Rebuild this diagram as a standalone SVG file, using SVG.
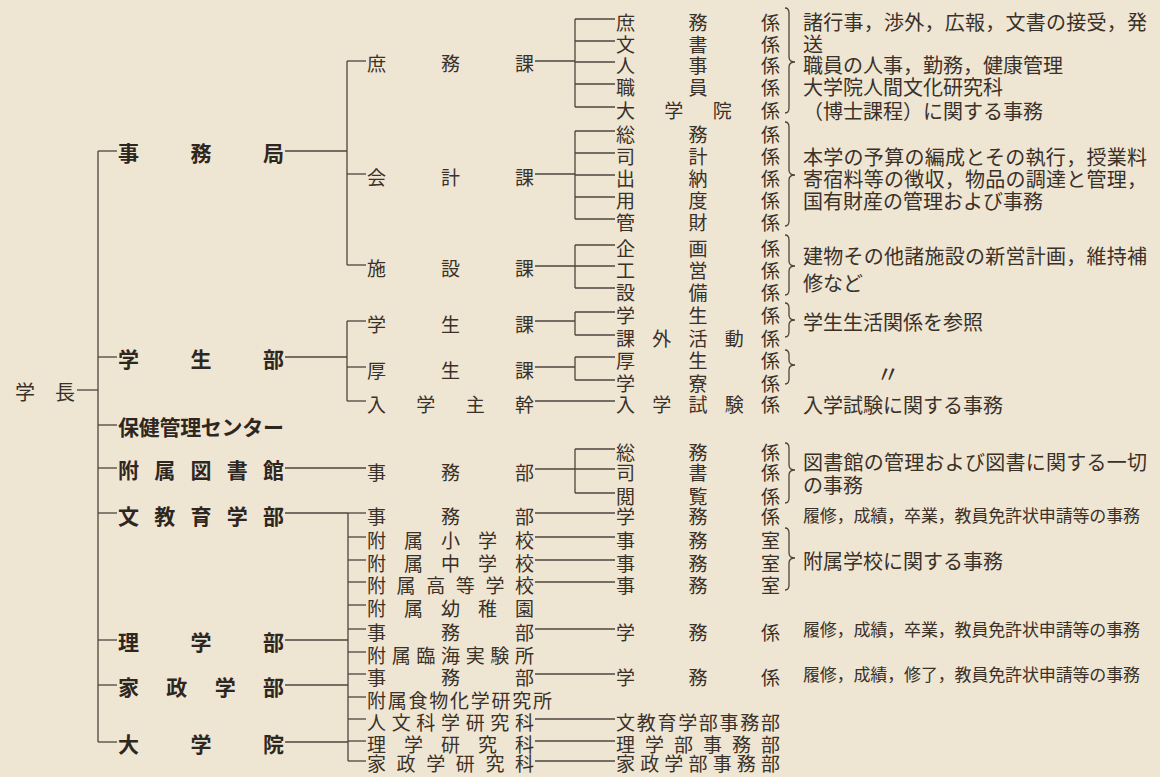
<svg xmlns="http://www.w3.org/2000/svg" width="1160" height="777" viewBox="0 0 1160 777">
<style>
text { font-family: "Noto Sans CJK JP", "Noto Sans CJK SC", sans-serif; fill: #3a3129; dominant-baseline: central; font-size: 20px; }
.l1 { font-size: 21px; font-weight: 700; fill: #2e271f; }
#l2-nodes text, #l3-nodes text { font-size: 19px; }
.s { font-size: 17px; }
.c line, .b path { stroke: #4d443b; stroke-width: 1.3; fill: none; }
</style>
<rect width="1160" height="777" fill="#efe5d3"/>
<g id="connectors" class="c">
<line x1="77" y1="390" x2="98" y2="390"/>
<line x1="98" y1="151" x2="98" y2="742"/>
<line x1="98" y1="151" x2="117" y2="151"/>
<line x1="98" y1="357" x2="117" y2="357"/>
<line x1="98" y1="425" x2="117" y2="425"/>
<line x1="98" y1="468" x2="117" y2="468"/>
<line x1="98" y1="513" x2="117" y2="513"/>
<line x1="98" y1="640" x2="117" y2="640"/>
<line x1="98" y1="685" x2="117" y2="685"/>
<line x1="98" y1="742" x2="117" y2="742"/>
<line x1="285" y1="151" x2="347" y2="151"/>
<line x1="347" y1="61" x2="347" y2="265"/>
<line x1="347" y1="61" x2="366" y2="61"/>
<line x1="347" y1="174" x2="366" y2="174"/>
<line x1="347" y1="265" x2="366" y2="265"/>
<line x1="535" y1="61" x2="575" y2="61"/>
<line x1="575" y1="19" x2="575" y2="107"/>
<line x1="575" y1="19" x2="615" y2="19"/>
<line x1="575" y1="41" x2="615" y2="41"/>
<line x1="575" y1="62" x2="615" y2="62"/>
<line x1="575" y1="84" x2="615" y2="84"/>
<line x1="575" y1="107" x2="615" y2="107"/>
<line x1="535" y1="174" x2="575" y2="174"/>
<line x1="575" y1="131" x2="575" y2="219"/>
<line x1="575" y1="131" x2="615" y2="131"/>
<line x1="575" y1="153" x2="615" y2="153"/>
<line x1="575" y1="175" x2="615" y2="175"/>
<line x1="575" y1="197" x2="615" y2="197"/>
<line x1="575" y1="219" x2="615" y2="219"/>
<line x1="535" y1="266" x2="615" y2="266"/>
<line x1="575" y1="245" x2="575" y2="288"/>
<line x1="575" y1="245" x2="615" y2="245"/>
<line x1="575" y1="288" x2="615" y2="288"/>
<line x1="285" y1="357" x2="347" y2="357"/>
<line x1="347" y1="321" x2="347" y2="401"/>
<line x1="347" y1="321" x2="366" y2="321"/>
<line x1="347" y1="367" x2="366" y2="367"/>
<line x1="347" y1="401" x2="366" y2="401"/>
<line x1="535" y1="321" x2="575" y2="321"/>
<line x1="575" y1="312" x2="575" y2="335"/>
<line x1="575" y1="312" x2="615" y2="312"/>
<line x1="575" y1="335" x2="615" y2="335"/>
<line x1="535" y1="367" x2="575" y2="367"/>
<line x1="575" y1="357" x2="575" y2="380"/>
<line x1="575" y1="357" x2="615" y2="357"/>
<line x1="575" y1="380" x2="615" y2="380"/>
<line x1="535" y1="401" x2="615" y2="401"/>
<line x1="285" y1="468" x2="366" y2="468"/>
<line x1="535" y1="469" x2="615" y2="469"/>
<line x1="575" y1="449" x2="575" y2="493"/>
<line x1="575" y1="449" x2="615" y2="449"/>
<line x1="575" y1="493" x2="615" y2="493"/>
<line x1="285" y1="513" x2="348" y2="513"/>
<line x1="285" y1="640" x2="348" y2="640"/>
<line x1="285" y1="685" x2="348" y2="685"/>
<line x1="285" y1="742" x2="348" y2="742"/>
<line x1="348" y1="513" x2="348" y2="761"/>
<line x1="348" y1="513" x2="366" y2="513"/>
<line x1="348" y1="537" x2="366" y2="537"/>
<line x1="348" y1="560" x2="366" y2="560"/>
<line x1="348" y1="582" x2="366" y2="582"/>
<line x1="348" y1="605" x2="366" y2="605"/>
<line x1="348" y1="629" x2="366" y2="629"/>
<line x1="348" y1="652" x2="366" y2="652"/>
<line x1="348" y1="674" x2="366" y2="674"/>
<line x1="348" y1="697" x2="366" y2="697"/>
<line x1="348" y1="719" x2="366" y2="719"/>
<line x1="348" y1="741" x2="366" y2="741"/>
<line x1="348" y1="761" x2="366" y2="761"/>
<line x1="535" y1="513" x2="615" y2="513"/>
<line x1="535" y1="537" x2="615" y2="537"/>
<line x1="535" y1="560" x2="615" y2="560"/>
<line x1="535" y1="582" x2="615" y2="582"/>
<line x1="535" y1="629" x2="615" y2="629"/>
<line x1="535" y1="674" x2="615" y2="674"/>
<line x1="535" y1="719" x2="615" y2="719"/>
<line x1="535" y1="741" x2="615" y2="741"/>
<line x1="535" y1="761" x2="615" y2="761"/>
</g>
<g id="braces" class="b">
<path d="M785,8 Q789,8 789,13 L789,57 Q789,62 795,62 Q789,62 789,67 L789,108 Q789,113 785,113"/>
<path d="M785,122 Q789,122 789,127 L789,170 Q789,175 795,175 Q789,175 789,180 L789,221 Q789,226 785,226"/>
<path d="M785,235 Q789,235 789,240 L789,261 Q789,266 795,266 Q789,266 789,271 L789,290 Q789,295 785,295"/>
<path d="M785,303 Q789,303 789,308 L789,315 Q789,320 795,320 Q789,320 789,325 L789,332 Q789,337 785,337"/>
<path d="M785,350 Q789,350 789,355 L789,360 Q789,365 795,365 Q789,365 789,370 L789,379 Q789,384 785,384"/>
<path d="M785,443 Q789,443 789,448 L789,465 Q789,470 795,470 Q789,470 789,475 L789,498 Q789,503 785,503"/>
<path d="M785,528 Q789,528 789,533 L789,553 Q789,558 795,558 Q789,558 789,563 L789,585 Q789,590 785,590"/>
</g>
<g id="n-gakucho"><text x="15" y="391" textLength="60" lengthAdjust="spacing">学長</text></g>
<g id="n-jimukyoku"><text class="l1" x="118" y="152" textLength="166" lengthAdjust="spacing">事務局</text></g>
<g id="n-gakuseibu"><text class="l1" x="118" y="358" textLength="166" lengthAdjust="spacing">学生部</text></g>
<g id="n-hoken"><text class="l1" x="118" y="426" textLength="166" lengthAdjust="spacing">保健管理センター</text></g>
<g id="n-toshokan"><text class="l1" x="118" y="469" textLength="166" lengthAdjust="spacing">附属図書館</text></g>
<g id="n-bunkyoiku"><text class="l1" x="118" y="515" textLength="166" lengthAdjust="spacing">文教育学部</text></g>
<g id="n-rigakubu"><text class="l1" x="118" y="641" textLength="166" lengthAdjust="spacing">理学部</text></g>
<g id="n-kaseigakubu"><text class="l1" x="118" y="686" textLength="166" lengthAdjust="spacing">家政学部</text></g>
<g id="n-daigakuin"><text class="l1" x="118" y="743" textLength="166" lengthAdjust="spacing">大学院</text></g>
<g id="l2-nodes">
<g id="n-shomuka"><text x="367" y="62" textLength="167" lengthAdjust="spacing">庶務課</text></g>
<g id="n-kaikeika"><text x="367" y="176" textLength="167" lengthAdjust="spacing">会計課</text></g>
<g id="n-shisetsuka"><text x="367" y="267" textLength="167" lengthAdjust="spacing">施設課</text></g>
<g id="n-gakuseika"><text x="367" y="323" textLength="167" lengthAdjust="spacing">学生課</text></g>
<g id="n-koseika"><text x="367" y="369" textLength="167" lengthAdjust="spacing">厚生課</text></g>
<g id="n-nyushi"><text x="367" y="403" textLength="167" lengthAdjust="spacing">入学主幹</text></g>
<g id="n-tosho-jimu"><text x="367" y="471" textLength="167" lengthAdjust="spacing">事務部</text></g>
<g id="n-bk-jimu"><text x="367" y="515" textLength="167" lengthAdjust="spacing">事務部</text></g>
<g id="n-fuzoku-sho"><text x="367" y="539" textLength="167" lengthAdjust="spacing">附属小学校</text></g>
<g id="n-fuzoku-chu"><text x="367" y="562" textLength="167" lengthAdjust="spacing">附属中学校</text></g>
<g id="n-fuzoku-ko"><text x="367" y="584" textLength="167" lengthAdjust="spacing">附属高等学校</text></g>
<g id="n-fuzoku-yochi"><text x="367" y="607" textLength="167" lengthAdjust="spacing">附属幼稚園</text></g>
<g id="n-ri-jimu"><text x="367" y="631" textLength="167" lengthAdjust="spacing">事務部</text></g>
<g id="n-rinkai"><text x="367" y="654" textLength="167" lengthAdjust="spacing">附属臨海実験所</text></g>
<g id="n-ka-jimu"><text x="367" y="676" textLength="167" lengthAdjust="spacing">事務部</text></g>
<g id="n-shokumotsu"><text x="367" y="699" textLength="185" lengthAdjust="spacing">附属食物化学研究所</text></g>
<g id="n-jinbun"><text x="367" y="721" textLength="167" lengthAdjust="spacing">人文科学研究科</text></g>
<g id="n-rigaku-ken"><text x="367" y="743" textLength="167" lengthAdjust="spacing">理学研究科</text></g>
<g id="n-kasei-ken"><text x="367" y="762" textLength="167" lengthAdjust="spacing">家政学研究科</text></g>
</g>
<g id="l3-nodes">
<g id="k1"><text x="616" y="21" textLength="164" lengthAdjust="spacing">庶務係</text></g>
<g id="k2"><text x="616" y="43" textLength="164" lengthAdjust="spacing">文書係</text></g>
<g id="k3"><text x="616" y="64" textLength="164" lengthAdjust="spacing">人事係</text></g>
<g id="k4"><text x="616" y="86" textLength="164" lengthAdjust="spacing">職員係</text></g>
<g id="k5"><text x="616" y="109" textLength="164" lengthAdjust="spacing">大学院係</text></g>
<g id="k6"><text x="616" y="133" textLength="164" lengthAdjust="spacing">総務係</text></g>
<g id="k7"><text x="616" y="155" textLength="164" lengthAdjust="spacing">司計係</text></g>
<g id="k8"><text x="616" y="177" textLength="164" lengthAdjust="spacing">出納係</text></g>
<g id="k9"><text x="616" y="199" textLength="164" lengthAdjust="spacing">用度係</text></g>
<g id="k10"><text x="616" y="221" textLength="164" lengthAdjust="spacing">管財係</text></g>
<g id="k11"><text x="616" y="247" textLength="164" lengthAdjust="spacing">企画係</text></g>
<g id="k12"><text x="616" y="269" textLength="164" lengthAdjust="spacing">工営係</text></g>
<g id="k13"><text x="616" y="291" textLength="164" lengthAdjust="spacing">設備係</text></g>
<g id="k14"><text x="616" y="314" textLength="164" lengthAdjust="spacing">学生係</text></g>
<g id="k15"><text x="616" y="337" textLength="164" lengthAdjust="spacing">課外活動係</text></g>
<g id="k16"><text x="616" y="359" textLength="164" lengthAdjust="spacing">厚生係</text></g>
<g id="k17"><text x="616" y="382" textLength="164" lengthAdjust="spacing">学寮係</text></g>
<g id="k18"><text x="616" y="403" textLength="164" lengthAdjust="spacing">入学試験係</text></g>
<g id="k19"><text x="616" y="451" textLength="164" lengthAdjust="spacing">総務係</text></g>
<g id="k20"><text x="616" y="471" textLength="164" lengthAdjust="spacing">司書係</text></g>
<g id="k21"><text x="616" y="495" textLength="164" lengthAdjust="spacing">閲覧係</text></g>
<g id="k22"><text x="616" y="515" textLength="164" lengthAdjust="spacing">学務係</text></g>
<g id="k23"><text x="616" y="539" textLength="164" lengthAdjust="spacing">事務室</text></g>
<g id="k24"><text x="616" y="562" textLength="164" lengthAdjust="spacing">事務室</text></g>
<g id="k25"><text x="616" y="584" textLength="164" lengthAdjust="spacing">事務室</text></g>
<g id="k26"><text x="616" y="631" textLength="164" lengthAdjust="spacing">学務係</text></g>
<g id="k27"><text x="616" y="676" textLength="164" lengthAdjust="spacing">学務係</text></g>
<g id="k28"><text x="616" y="721" textLength="164" lengthAdjust="spacing">文教育学部事務部</text></g>
<g id="k29"><text x="616" y="743" textLength="164" lengthAdjust="spacing">理学部事務部</text></g>
<g id="k30"><text x="616" y="762" textLength="164" lengthAdjust="spacing">家政学部事務部</text></g>
</g>
<g id="descriptions">
<text x="803" y="21" textLength="344" lengthAdjust="spacing">諸行事，渉外，広報，文書の接受，発</text>
<text x="803" y="43">送</text>
<text x="803" y="64">職員の人事，勤務，健康管理</text>
<text x="803" y="86">大学院人間文化研究科</text>
<text x="803" y="110">（博士課程）に関する事務</text>
<text x="803" y="156" textLength="344" lengthAdjust="spacing">本学の予算の編成とその執行，授業料</text>
<text x="803" y="178" textLength="344" lengthAdjust="spacing">寄宿料等の徴収，物品の調達と管理，</text>
<text x="803" y="200">国有財産の管理および事務</text>
<text x="803" y="255" textLength="344" lengthAdjust="spacing">建物その他諸施設の新営計画，維持補</text>
<text x="803" y="282">修など</text>
<text x="803" y="321">学生生活関係を参照</text>
<text x="876" y="372" style="font-size:24px">〃</text>
<text x="803" y="404">入学試験に関する事務</text>
<text x="803" y="461" textLength="344" lengthAdjust="spacing">図書館の管理および図書に関する一切</text>
<text x="803" y="484">の事務</text>
<text class="s" x="803" y="514" textLength="337" lengthAdjust="spacing">履修，成績，卒業，教員免許状申請等の事務</text>
<text x="803" y="560">附属学校に関する事務</text>
<text class="s" x="803" y="628" textLength="337" lengthAdjust="spacing">履修，成績，卒業，教員免許状申請等の事務</text>
<text class="s" x="803" y="673" textLength="337" lengthAdjust="spacing">履修，成績，修了，教員免許状申請等の事務</text>
</g>
</svg>
